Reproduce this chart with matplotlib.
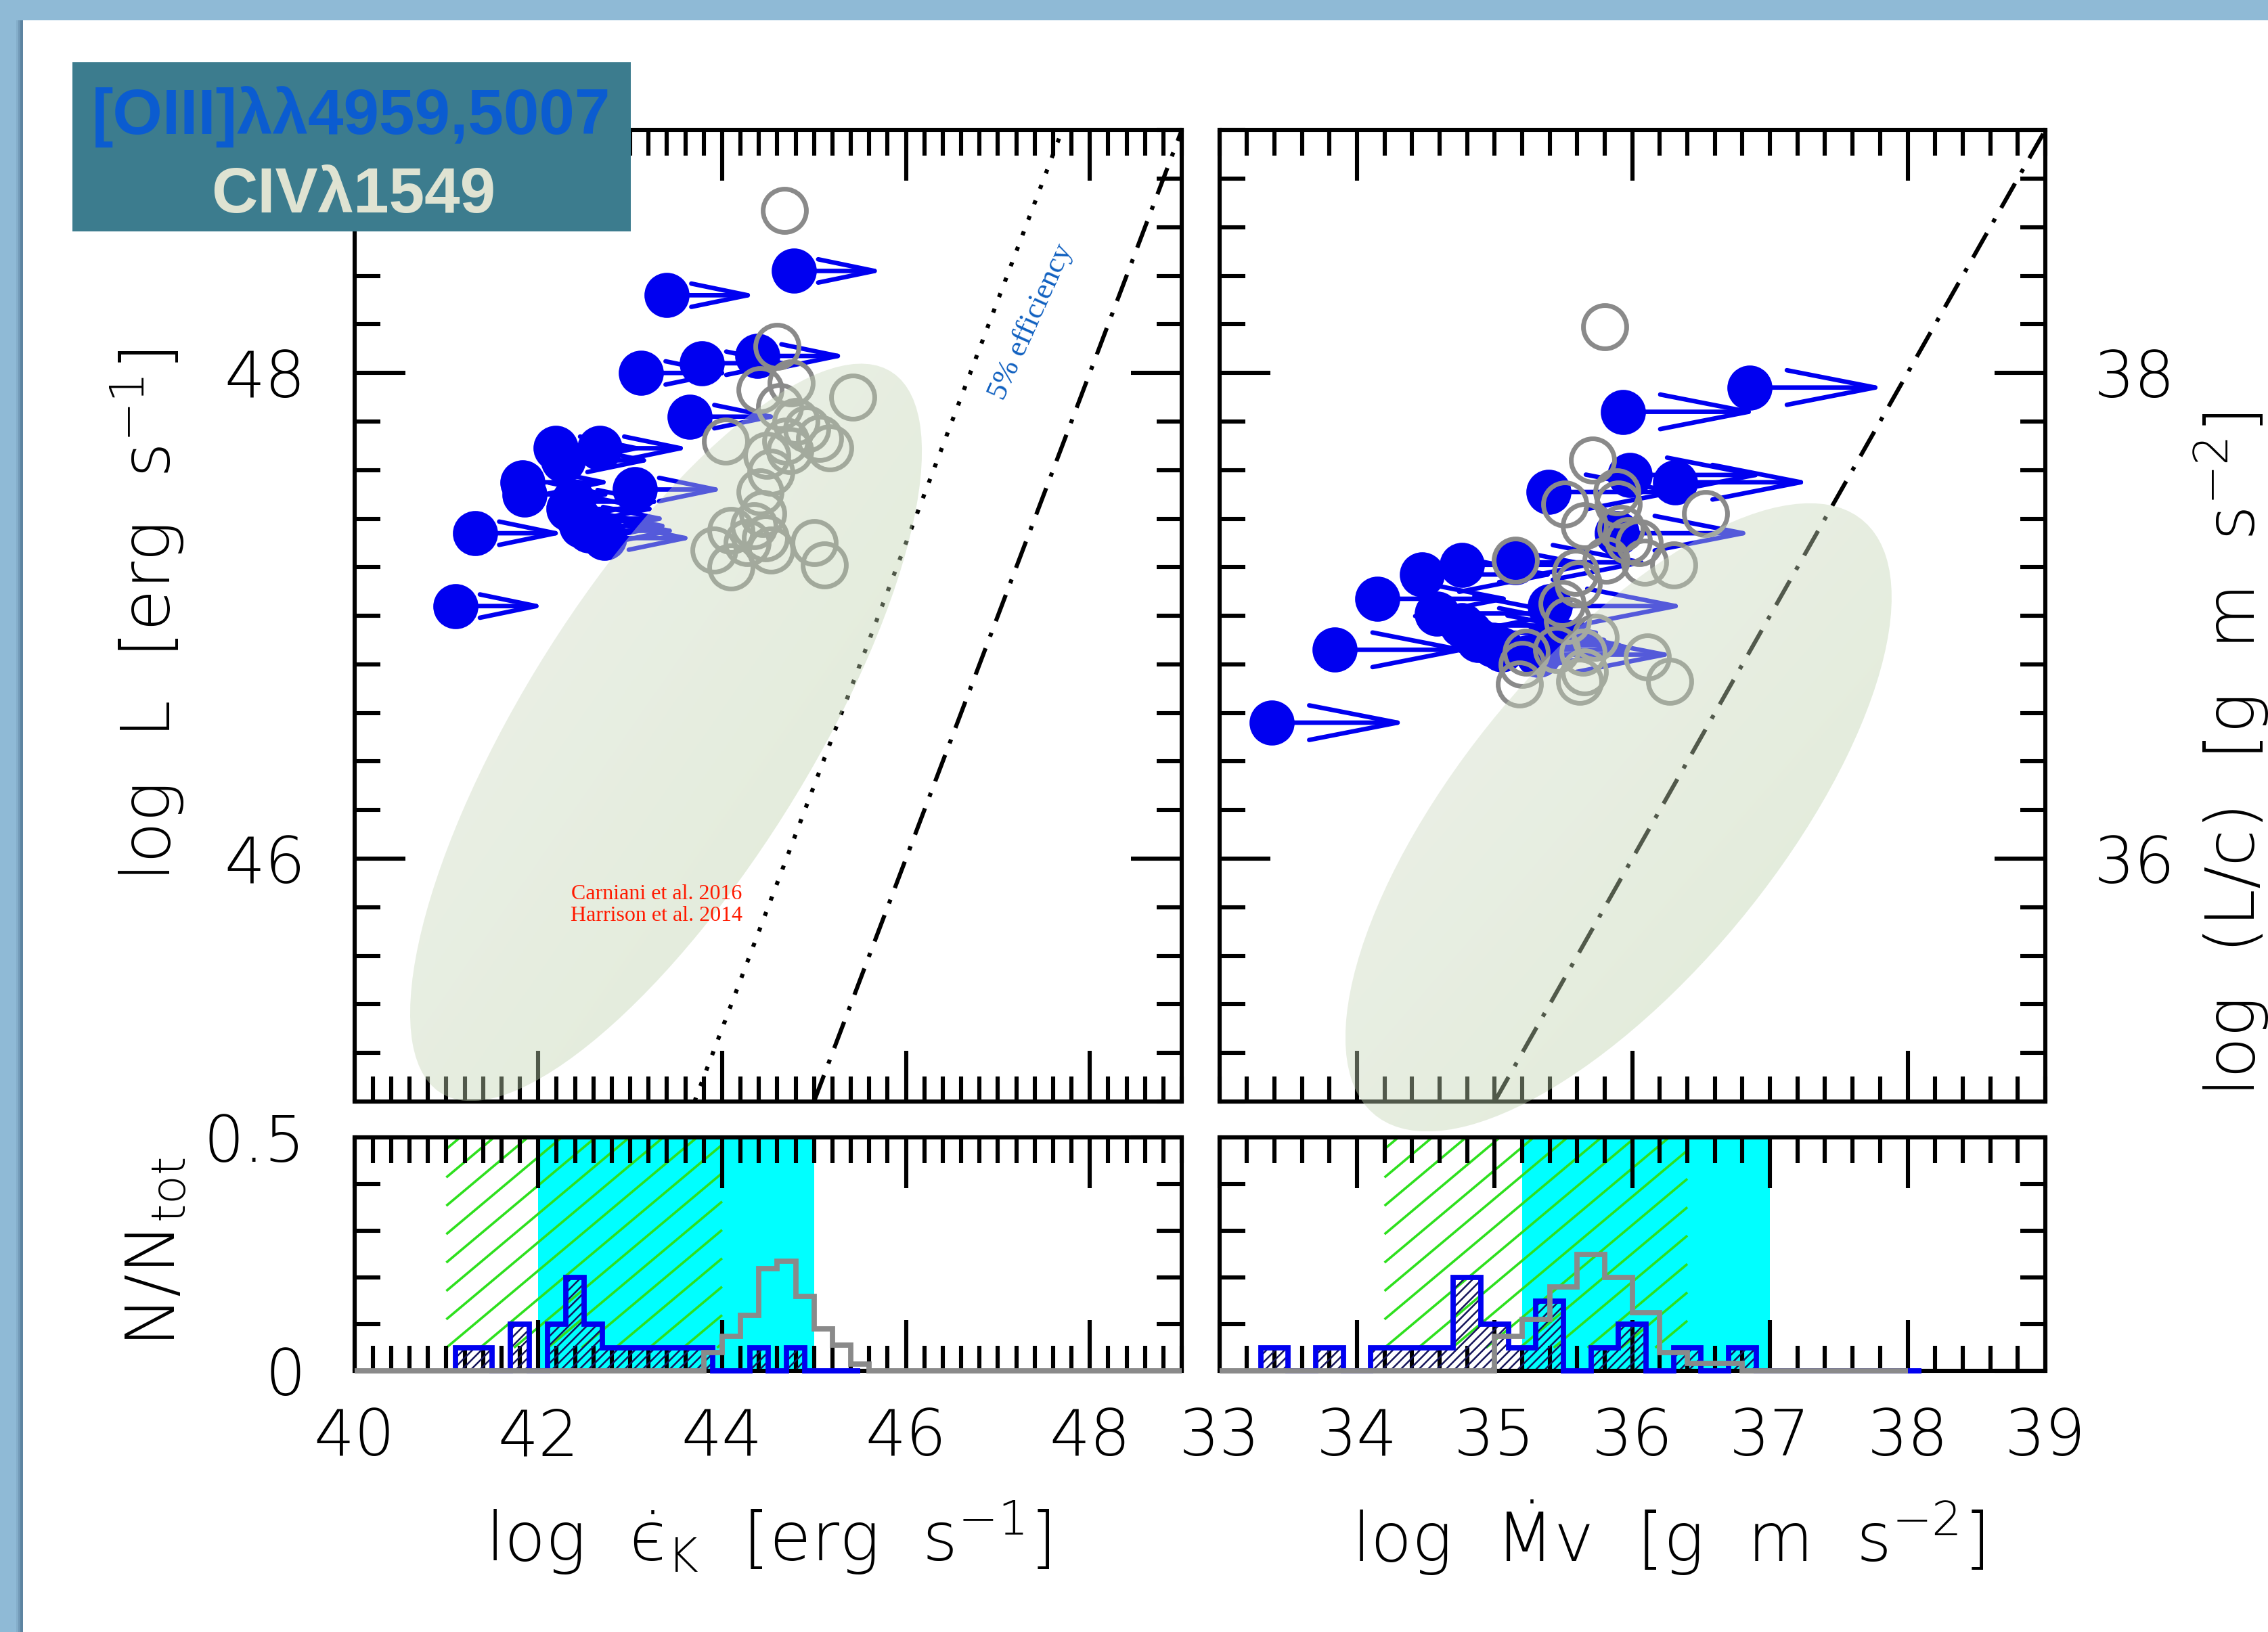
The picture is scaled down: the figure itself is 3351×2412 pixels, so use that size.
import numpy as np
import matplotlib
matplotlib.use("Agg")
import matplotlib.pyplot as plt
from matplotlib import font_manager
from matplotlib.patches import Ellipse, Rectangle
from matplotlib.collections import LineCollection
from matplotlib.colors import LinearSegmentedColormap
from matplotlib.transforms import Bbox, TransformedBbox
from matplotlib.ticker import MultipleLocator, FixedLocator, FixedFormatter

# ---------------- data ----------------
# left panel: log kinetic power (lower limits) vs log L_bol
ek_blue = [41.10, 41.31, 41.83, 41.85, 42.19, 42.27, 42.33, 42.38, 42.44, 42.47,
           42.55, 42.67, 42.72, 43.05, 43.12, 43.40, 43.65, 43.78, 44.38, 44.78]
lbol_blue = [47.04, 47.34, 47.55, 47.50, 47.69, 47.64, 47.44, 47.47, 47.40, 47.37,
             47.35, 47.69, 47.32, 47.52, 48.00, 48.32, 47.82, 48.04, 48.07, 48.42]
ek_gray = [44.68, 44.60, 44.75, 44.41, 45.42, 44.63, 44.80, 44.92, 45.06, 45.17,
           44.69, 44.04, 44.49, 44.74, 44.53, 44.41, 44.44, 44.10, 44.35, 44.47,
           45.00, 43.91, 44.27, 44.53, 44.10, 45.11]
lbol_gray = [48.67, 48.11, 47.96, 47.93, 47.90, 47.86, 47.80, 47.77, 47.73, 47.69,
             47.72, 47.72, 47.66, 47.68, 47.59, 47.51, 47.42, 47.35, 47.37, 47.32,
             47.30, 47.27, 47.30, 47.27, 47.20, 47.21]

# right panel: log momentum rate (lower limits) vs log L/c
pdot_blue = [33.38, 33.84, 34.15, 34.47, 34.76, 34.58, 34.76, 34.82, 34.88, 34.99,
             35.05, 35.15, 35.40, 35.39, 35.32, 35.89, 35.98, 35.93, 36.31, 36.85]
lc_blue = [36.56, 36.86, 37.07, 37.17, 37.21, 37.01, 36.96, 36.93, 36.90, 36.88,
           36.86, 37.22, 37.04, 37.51, 36.84, 37.34, 37.58, 37.84, 37.55, 37.94]
pdot_gray = [35.80, 35.71, 35.51, 35.89, 35.90, 36.53, 35.65, 35.92, 35.97, 36.05,
             36.09, 35.81, 35.15, 36.30, 35.59, 35.61, 35.49, 35.53, 35.73, 35.23,
             35.45, 35.64, 36.11, 35.20, 35.65, 35.18, 36.27, 35.62]
lc_gray = [38.19, 37.64, 37.46, 37.51, 37.46, 37.42, 37.37, 37.36, 37.31, 37.30,
           37.22, 37.23, 37.23, 37.21, 37.18, 37.13, 37.05, 36.98, 36.91, 36.85,
           36.86, 36.85, 36.83, 36.80, 36.77, 36.72, 36.73, 36.73]

arrow_len = 1.0  # dex, lower limits

# literature regions (Carniani et al. 2016, Harrison et al. 2014)
ell_left = dict(xy=(43.39, 46.52), width=6.08, height=1.80, angle=24.9)
ell_right = dict(xy=(35.90, 36.17), width=4.44, height=1.65, angle=28.9)

# reference lines
eff5_x, eff5_y = [43.70, 47.70], [45.0, 49.0]
eff100_x, eff100_y = [45.0, 49.0], [45.0, 49.0]
lc_x, lc_y = [35.0, 39.0], [35.0, 39.0]

# histograms (N/Ntot, 0.2 dex bins)
bw = 0.2
hek_blue_start = 41.1
hek_blue = [0.05, 0.05, 0, 0.10, 0, 0.10, 0.20, 0.10, 0.05, 0.05, 0.05, 0.05, 0.05,
            0.05, 0, 0, 0.05, 0, 0.05, 0, 0, 0]
hek_gray_start = 43.8
hek_gray = [0.04, 0.075, 0.12, 0.22, 0.235, 0.16, 0.09, 0.055, 0.015]
hp_blue_start = 33.3
hp_blue = [0.05, 0, 0.05, 0, 0.05, 0.05, 0.05, 0.20, 0.10, 0.05, 0.15, 0, 0.05, 0.10,
           0, 0.05, 0, 0.05, 0, 0, 0, 0, 0, 0]
hp_gray_start = 35.0
hp_gray = [0.075, 0.11, 0.18, 0.25, 0.20, 0.125, 0.04, 0.017, 0.017]

# shaded ranges in histograms
ek_hatch = (41.0, 44.0)
ek_cyan = (42.0, 45.0)
p_hatch = (34.2, 36.4)
p_cyan = (35.2, 37.0)

# ---------------- fonts ----------------
def pick_light():
    for fam, w in [('DejaVu Sans', 200), ('Lato', 300), ('Roboto', 300),
                   ('Open Sans', 300), ('Noto Sans', 300)]:
        try:
            path = font_manager.findfont(font_manager.FontProperties(family=fam, weight=w),
                                         fallback_to_default=False)
        except Exception:
            continue
        if 'light' in path.lower():
            return fam, w
    return 'DejaVu Sans', 400

lfam, lw8 = pick_light()
plt.rcParams['font.family'] = [lfam, 'DejaVu Sans']
plt.rcParams['font.weight'] = lw8
plt.rcParams['mathtext.fontset'] = 'custom'
pat = f'{lfam}:weight={lw8}'
for k in ['rm', 'it', 'bf', 'sf']:
    plt.rcParams['mathtext.' + k] = pat
plt.rcParams['hatch.linewidth'] = 0.9

BLUE = '#0000f0'
GRAY = '#8a8a8a'
NAVY = '#14145a'
GREEN = '#2ee01e'
TICK_FS = 34
LAB_FS = 36
ell_cmap = LinearSegmentedColormap.from_list('ell', ['#d8ddd0', '#b3d09d'])

fig = plt.figure(figsize=(3351 / 200, 2412 / 200), dpi=200)
fig.patch.set_facecolor('#8fbad6')
W0, H0 = 1568, 1129


def box(x0, y0, x1, y1):
    return [x0 / W0, 1 - y1 / H0, (x1 - x0) / W0, (y1 - y0) / H0]


# white slide panel with a soft left shadow
for i, a in enumerate([0.15, 0.3, 0.5]):
    fig.add_artist(Rectangle(((11 + 1.5 * i) / W0, 0), 6 / W0, 1 - 14 / H0,
                             transform=fig.transFigure, color='#4a6f8c', alpha=a,
                             lw=0, zorder=-3))
fig.add_artist(Rectangle((16 / W0, 0), 1, 1 - 14 / H0, transform=fig.transFigure,
                         color='white', lw=0, zorder=-2))

axL = fig.add_axes(box(245, 90, 817, 762))
axR = fig.add_axes(box(843, 90, 1414, 762))
hL = fig.add_axes(box(245, 787, 817, 948.5))
hR = fig.add_axes(box(843, 787, 1414, 948.5))

for ax in [axL, axR, hL, hR]:
    ax.set_facecolor('none')
    ax.tick_params(which='both', direction='in', top=True, right=True,
                   width=2.2, labelsize=TICK_FS)
    ax.tick_params(which='major', length=27)
    ax.tick_params(which='minor', length=13.5)
    ax.tick_params(axis='y', pad=26)
    ax.tick_params(axis='x', pad=19)
    for s in ax.spines.values():
        s.set_linewidth(2.2)


def shaded_ellipse(ax, ell):
    xl, yl = ax.get_xlim(), ax.get_ylim()
    e = Ellipse(**ell, transform=ax.transData)
    a, b = ell['width'] / 2, ell['height'] / 2
    th = np.radians(ell['angle'])
    hx = np.hypot(a * np.cos(th), b * np.sin(th))
    hy = np.hypot(a * np.sin(th), b * np.cos(th))
    cx, cy = ell['xy']
    u = np.linspace(0, 1, 256)
    t = (u[None, :] + u[:, None]) / 2
    im = ax.imshow(t, cmap=ell_cmap, extent=(cx - hx, cx + hx, cy - hy, cy + hy),
                   origin='upper', aspect='auto', alpha=0.42, zorder=10,
                   interpolation='bilinear')
    im.set_clip_path(e)
    im.set_clip_box(TransformedBbox(Bbox([[-0.1, -0.1], [1.1, 1.1]]), ax.transAxes))
    ax.set_xlim(xl)
    ax.set_ylim(yl)


# ---- scatter panels ----
def scatter_panel(ax, xb, yb, xg, yg, hl, hw, ell):
    for x, y in zip(xb, yb):
        ax.annotate('', xy=(x + arrow_len, y), xytext=(x, y), zorder=3,
                    arrowprops=dict(arrowstyle=f'->,head_length={hl},head_width={hw}',
                                    color=BLUE, lw=2.4, shrinkA=0, shrinkB=0,
                                    mutation_scale=10))
    ax.plot(xb, yb, 'o', ms=24, color=BLUE, mec='none', zorder=4)
    ax.plot(xg, yg, 'o', ms=23, mfc='none', mec=GRAY, mew=2.5, zorder=5)
    shaded_ellipse(ax, ell)


axL.set_xlim(40, 49)
axL.set_ylim(45, 49)
scatter_panel(axL, ek_blue, lbol_blue, ek_gray, lbol_gray, 3.0, 0.62, ell_left)
axL.plot(eff5_x, eff5_y, color='black', lw=2.2, ls=(0, (1, 3)), zorder=2)
axL.plot(eff100_x, eff100_y, color='black', lw=2.2, ls=(0, (6.8, 3, 1, 3)), zorder=2)
axL.text(43.29, 45.81, 'Carniani et al. 2016\nHarrison et al. 2014', color='#ff1a00',
         family='Liberation Serif', weight='normal', fontsize=11.5,
         ha='center', va='center', linespacing=1.15, zorder=11)
axL.text(47.36, 48.21, '5% efficiency', color='#1060c0', family='Liberation Serif',
         weight='normal', fontsize=16, rotation=65.8, rotation_mode='anchor',
         ha='center', va='center', zorder=6)

axR.set_xlim(33, 39)
axR.set_ylim(35, 39)
scatter_panel(axR, pdot_blue, lc_blue, pdot_gray, lc_gray, 4.7, 0.92, ell_right)
axR.plot(lc_x, lc_y, color='black', lw=2.2, ls=(0, (6.8, 3, 1, 3)), zorder=2)

for ax in [axL, axR]:
    ax.xaxis.set_major_locator(MultipleLocator(2))
    ax.xaxis.set_minor_locator(MultipleLocator(0.2))
    ax.yaxis.set_major_locator(MultipleLocator(2))
    ax.yaxis.set_minor_locator(MultipleLocator(0.2))
    ax.tick_params(labelbottom=False)
axR.tick_params(labelleft=False, labelright=True)


# ---- histograms ----
def green_hatch(ax, x0, x1, y0=0.05, y1=0.5, gap_px=50.0, angle=40.0):
    pos = ax.get_position()
    Wp, Hp = fig.get_size_inches() * fig.dpi
    xl, yl = ax.get_xlim(), ax.get_ylim()
    sx = pos.width * Wp / (xl[1] - xl[0])
    sy = pos.height * Hp / (yl[1] - yl[0])
    slope = np.tan(np.radians(angle)) * sx / sy
    run = (y1 - y0) / slope
    step = gap_px / sx
    k = np.arange(-np.ceil(run / step), np.ceil((x1 - x0) / step) + 1)
    segs = []
    for s in x0 + k * step:
        xa, xb = max(s, x0), min(s + run, x1)
        if xb > xa:
            segs.append([(xa, y0 + slope * (xa - s)), (xb, y0 + slope * (xb - s))])
    ax.add_collection(LineCollection(segs, colors=GREEN, linewidths=1.3, zorder=1))


def hist_panel(ax, xlim, cyan, hatch, bstart, bvals, gstart, gvals, gray_end):
    ax.set_xlim(*xlim)
    ax.set_ylim(0, 0.5)
    ax.axvspan(*cyan, color='#00ffff', lw=0, zorder=0.5)
    green_hatch(ax, *hatch)
    be = bstart + bw * np.arange(len(bvals) + 1)
    ax.stairs(bvals, be, baseline=0, fill=True, facecolor='none', edgecolor=NAVY,
              hatch='/////', lw=0, zorder=1.6)
    ax.stairs(bvals, be, baseline=0, fill=False, color=BLUE, lw=2.8, zorder=2.6,
              clip_on=False)
    ge = gstart + bw * np.arange(len(gvals) + 1)
    ge = np.concatenate([[xlim[0]], ge, [gray_end]])
    gv = np.concatenate([[0], gvals, [0]])
    ax.stairs(gv, ge, baseline=0, fill=False, color=GRAY, lw=2.8, zorder=2.7,
              clip_on=False)
    ax.set_xlim(*xlim)
    ax.set_ylim(0, 0.5)
    ax.yaxis.set_major_locator(FixedLocator([0, 0.5]))
    ax.yaxis.set_major_formatter(FixedFormatter(['0', '0.5']))
    ax.yaxis.set_minor_locator(MultipleLocator(0.1))
    ax.xaxis.set_minor_locator(MultipleLocator(0.2))


hist_panel(hL, (40, 49), ek_cyan, ek_hatch, hek_blue_start, hek_blue,
           hek_gray_start, hek_gray, 49)
hL.xaxis.set_major_locator(MultipleLocator(2))
hist_panel(hR, (33, 39), p_cyan, p_hatch, hp_blue_start, hp_blue,
           hp_gray_start, hp_gray, 38.0)
hR.xaxis.set_major_locator(MultipleLocator(1))
hR.tick_params(labelleft=False)

# ---- axis labels ----
fig.text(102 / W0, 1 - 426 / H0, r'log  L  [erg  s$^{-1}$]', rotation=90,
         ha='center', va='center', fontsize=LAB_FS)
fig.text(108 / W0, 1 - 866 / H0, r'N/N$_{\mathrm{tot}}$', rotation=90,
         ha='center', va='center', fontsize=LAB_FS)
fig.text(531 / W0, 1 - 1064 / H0, r'log  $\dot{\mathrm{є}}_{\mathrm{K}}$  [erg  s$^{-1}$]',
         ha='center', va='center', fontsize=LAB_FS)
fig.text(1153 / W0, 1 - 1064 / H0, r'log  $\dot{\mathrm{M}}$v  [g  m  s$^{-2}$]',
         ha='center', va='center', fontsize=LAB_FS)
fig.text(1543 / W0, 1 - 522 / H0, r'log  (L/c)  [g  m  s$^{-2}$]', rotation=90,
         ha='center', va='center', fontsize=LAB_FS)

# ---- title box ----
fig.add_artist(Rectangle((50 / W0, 1 - 160 / H0), 386 / W0, 117 / H0,
                         transform=fig.transFigure, color='#3c7c8e', lw=0, zorder=20))
fig.text(243 / W0, 1 - 92.5 / H0, '[OIII]λλ4959,5007', ha='center', va='baseline',
         fontsize=34, weight='bold', family='Liberation Sans', color='#0b5cd0',
         zorder=21)
fig.text(244.5 / W0, 1 - 147 / H0, 'CIVλ1549', ha='center', va='baseline',
         fontsize=34, weight='bold', family='Liberation Sans', color='#dfe3d2',
         zorder=21)

fig.savefig('out.png', dpi=200, facecolor=fig.get_facecolor())
